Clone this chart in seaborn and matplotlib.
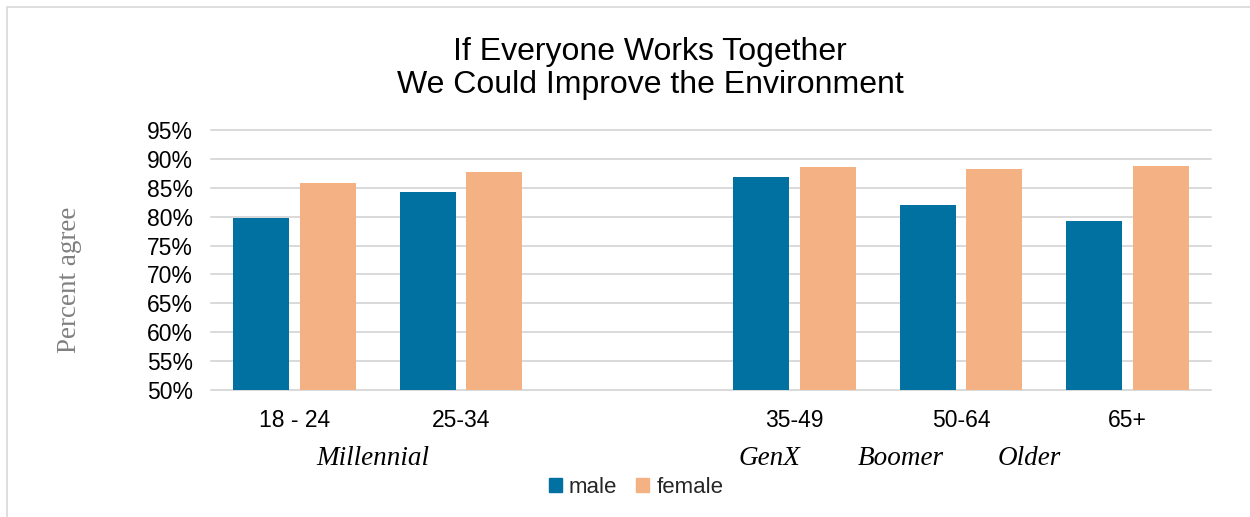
import matplotlib
matplotlib.use("Agg")
import matplotlib.pyplot as plt
import matplotlib.patches as mpatches
import pandas as pd
import seaborn as sns

# --- data -------------------------------------------------------------
age_groups = ["18 - 24", "25-34", " ", "35-49", "50-64", "65+"]
ages_with_data = ["18 - 24", "25-34", "35-49", "50-64", "65+"]
male_pct = [79.7, 84.3, 86.8, 82.0, 79.2]
female_pct = [85.8, 87.7, 88.6, 88.3, 88.7]
sexes = ["male", "female"]
generations = ["Millennial", "GenX", "Boomer", "Older"]
generation_x = [0.47, 2.85, 3.64, 4.41]
y_ticks = [50, 55, 60, 65, 70, 75, 80, 85, 90, 95]

title = "If Everyone Works Together\nWe Could Improve the Environment"
y_label = "Percent agree"

colors = {"male": "#0071A1", "female": "#F4B183"}
grid_gray = "#D9D9D9"

df = pd.DataFrame({
    "age": ages_with_data * 2,
    "sex": ["male"] * len(ages_with_data) + ["female"] * len(ages_with_data),
    "pct": male_pct + female_pct,
})

# --- figure -----------------------------------------------------------
sns.set_theme(style="white")
plt.rcParams["font.family"] = ["Liberation Sans", "DejaVu Sans"]

fig = plt.figure(figsize=(12.5, 5.17), dpi=100)
ax = fig.add_axes([211 / 1250, 1 - 390 / 517, 1000 / 1250, 260 / 517])

sns.barplot(data=df, x="age", y="pct", hue="sex", order=age_groups,
            hue_order=sexes, palette=colors, width=0.8, gap=0.16,
            saturation=1, errorbar=None, linewidth=0, ax=ax, zorder=3)

ax.set_ylim(50, 95)
ax.set_xlim(-0.5, len(age_groups) - 0.5)
ax.set_yticks(y_ticks)
ax.set_yticklabels([f"{t}%" for t in y_ticks])
for t in y_ticks:
    ax.axhline(t, color=grid_gray, lw=1.4, zorder=1, clip_on=False)

for s in ax.spines.values():
    s.set_visible(False)
ax.tick_params(axis="both", length=0, labelsize=16.5, colors="black")
ax.tick_params(axis="y", pad=13)
ax.tick_params(axis="x", pad=14)
ax.set_xlabel("")

ax.set_ylabel(y_label, family="Liberation Serif", fontsize=19.5, color="#808080")
ax.yaxis.set_label_coords(-0.129, 0.423)

# generation names under the age ticks
for name, gx in zip(generations, generation_x):
    ax.text(gx, -0.288, name, transform=ax.get_xaxis_transform(),
            ha="center", va="baseline", family="Liberation Serif",
            style="italic", fontsize=19.5, color="black")

# legend below the chart
handles = [mpatches.Patch(color=colors[s], label=s) for s in sexes]
ax.legend_.remove()
fig.legend(handles=handles, loc="lower center",
           bbox_to_anchor=(636 / 1250, 1 - 509 / 517), ncol=2,
           frameon=False, fontsize=16, handlelength=0.6, handleheight=0.6,
           handletextpad=0.3, columnspacing=0.85, borderpad=0)

fig.text(650 / 1250, 1 - 93 / 517, title, ha="center", va="baseline",
         fontsize=23, linespacing=1.12, color="black")

# chart-area border
fig.patches.append(mpatches.Rectangle((7 / 1250, -0.2), 2, 1.2 - 7 / 517,
                                      transform=fig.transFigure, fill=False,
                                      edgecolor=grid_gray, lw=1.2))

fig.savefig("out.png", dpi=100, facecolor="white")
